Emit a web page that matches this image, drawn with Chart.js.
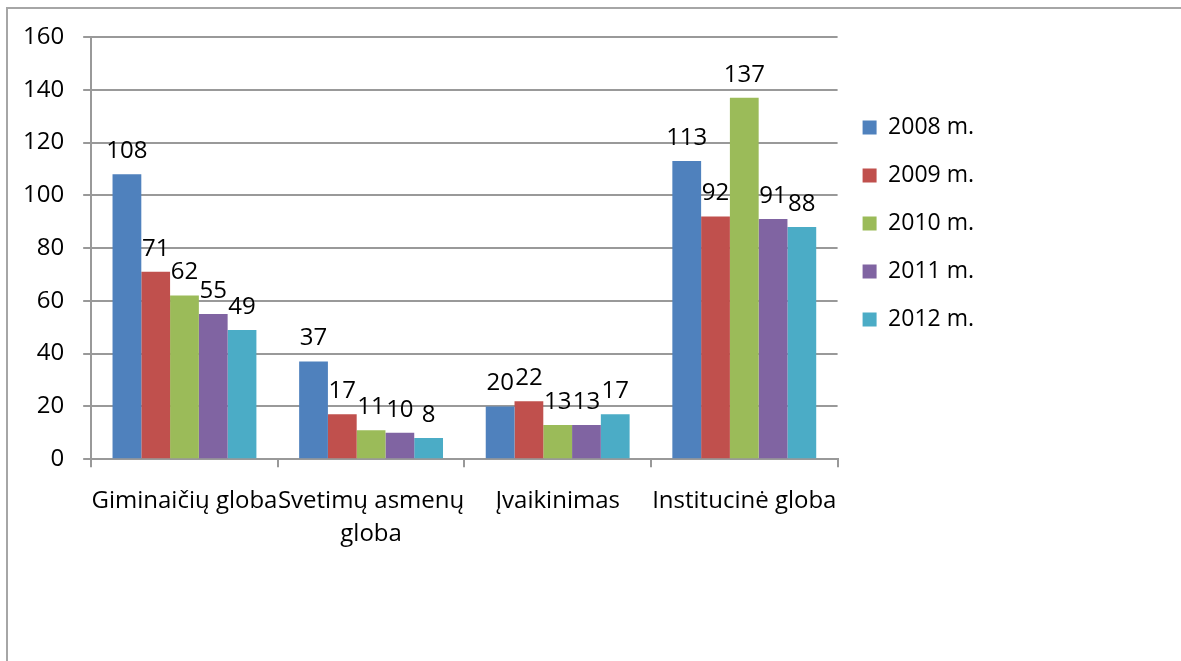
<!DOCTYPE html>
<html>
<head>
<meta charset="utf-8">
<script src="https://cdn.jsdelivr.net/npm/chart.js@4"></script>
<style>
  html, body { margin: 0; padding: 0; background: #fff; }
  .frame {
    position: absolute; left: 6px; top: 7px; right: 0; bottom: 0;
    border-left: 2px solid #a6a6a6; border-top: 2px solid #a6a6a6;
  }
  .wrap { position: absolute; left: 0; top: 0; width: 1181px; height: 661px; }
</style>
</head>
<body>
<div class="frame"></div>
<div class="wrap"><canvas id="chart" width="1181" height="661"></canvas></div>
<script>
/* Globos formos 2008-2012 */
const categories = ['Giminaičių globa', ['Svetimų asmenų', 'globa'], 'Įvaikinimas', 'Institucinė globa'];
const years = ['2008 m.', '2009 m.', '2010 m.', '2011 m.', '2012 m.'];
const values2008 = [108, 37, 20, 113];
const values2009 = [71, 17, 22, 92];
const values2010 = [62, 11, 13, 137];
const values2011 = [55, 10, 13, 91];
const values2012 = [49, 8, 17, 88];
const yTicks = [0, 20, 40, 60, 80, 100, 120, 140, 160];

const SERIES_COLORS = ['#4f81bd', '#c0504d', '#9bbb59', '#8064a2', '#4bacc6'];
const FONT = "'Open Sans', sans-serif";
const GRID = '#999999';

const valueLabels = {
  id: 'valueLabels',
  afterDatasetsDraw(chart) {
    const ctx = chart.ctx;
    ctx.save();
    ctx.font = `24px ${FONT}`;
    ctx.fillStyle = '#000';
    ctx.textAlign = 'center';
    ctx.textBaseline = 'middle';
    chart.data.datasets.forEach((ds, i) => {
      chart.getDatasetMeta(i).data.forEach((bar, j) => {
        ctx.fillText(String(ds.data[j]), bar.x, bar.y - 23);
      });
    });
    ctx.restore();
  },
};

const seriesData = [values2008, values2009, values2010, values2011, values2012];
const datasets = years.map((label, i) => ({
  label,
  data: seriesData[i],
  backgroundColor: SERIES_COLORS[i],
  borderWidth: 0,
  categoryPercentage: 0.771,
  barPercentage: 1,
}));

new Chart(document.getElementById('chart'), {
  type: 'bar',
  data: { labels: categories, datasets },
  plugins: [valueLabels],
  options: {
    responsive: false,
    animation: false,
    layout: { padding: { left: 4, top: 37, right: 197, bottom: 93 } },
    plugins: {
      tooltip: { enabled: false },
      legend: {
        position: 'right',
        align: 'start',
        fullSize: false,
        title: { display: true, text: '', padding: { top: 53, bottom: 0 }, font: { size: 1, lineHeight: 1 } },
        labels: {
          color: '#000',
          font: { family: FONT, size: 23 },
          boxWidth: 14,
          boxHeight: 14,
          padding: 25,
        },
      },
    },
    scales: {
      x: {
        grid: { display: true, drawOnChartArea: false, color: GRID, lineWidth: 2, tickLength: 8, offset: true },
        border: { display: true, color: GRID, width: 2 },
        ticks: {
          color: '#000',
          font: { family: FONT, size: 24, lineHeight: 1.35 },
          padding: 18,
          maxRotation: 0,
          autoSkip: false,
        },
      },
      y: {
        min: 0,
        max: 160,
        afterBuildTicks: axis => { axis.ticks = yTicks.map(v => ({ value: v })); },
        grid: { color: GRID, lineWidth: 2, tickLength: 8 },
        border: { display: true, color: GRID, width: 2 },
        ticks: {
          color: '#000',
          font: { family: FONT, size: 24 },
          padding: 19,
        },
      },
    },
  },
});
</script>
</body>
</html>
